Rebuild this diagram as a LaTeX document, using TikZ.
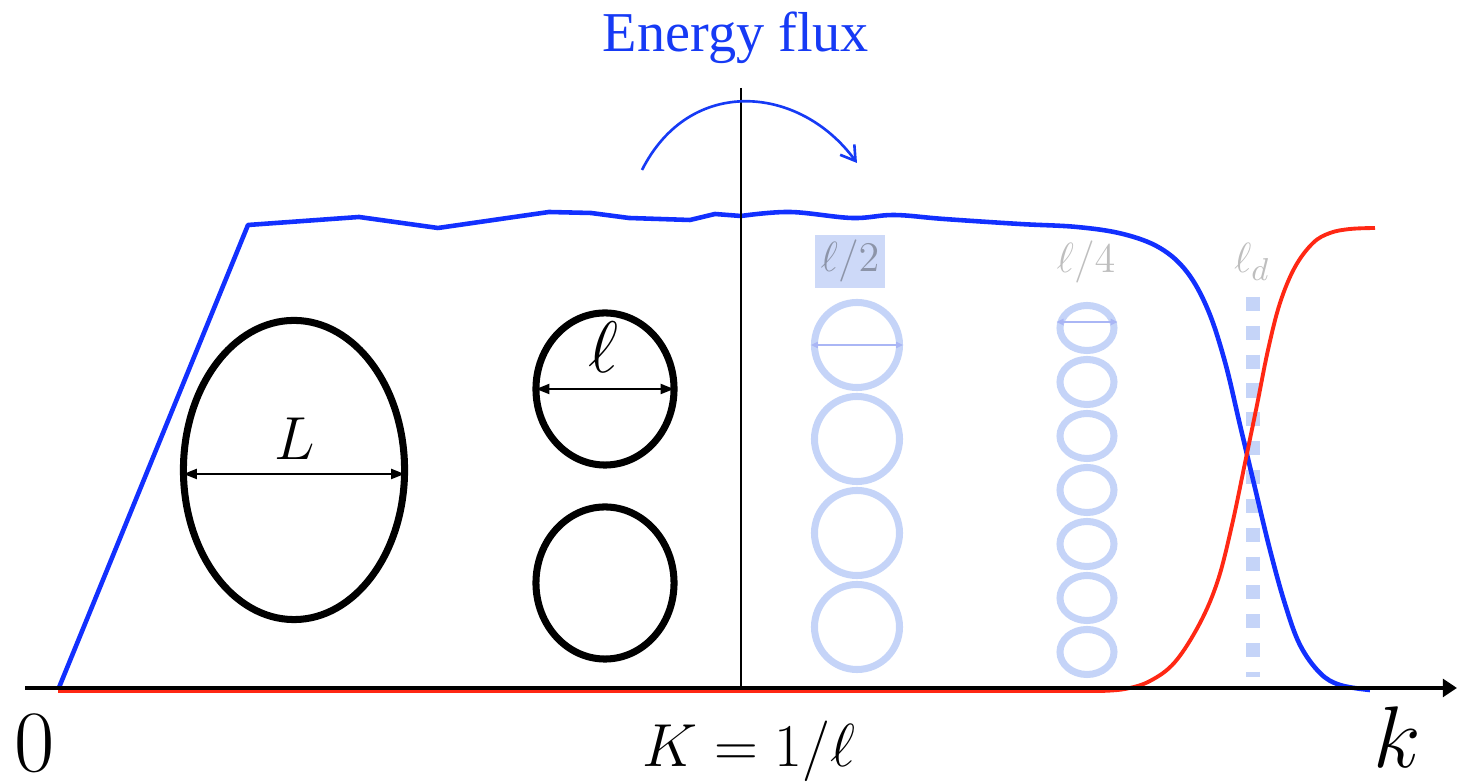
\documentclass[tikz,border=0pt]{standalone}
\usepackage{amsmath,amssymb}
\usepackage{xcolor}
\usepackage{fontspec}
\newfontfamily\timesfont{Liberation Serif}
\usepackage{tikz}
\usetikzlibrary{arrows.meta,shapes.geometric}

\definecolor{fluxblue}{RGB}{22,58,245}
\definecolor{specblue}{RGB}{18,48,255}
\definecolor{dissred}{RGB}{255,40,20}
\definecolor{paleblue}{RGB}{197,212,248}
\definecolor{boxblue}{RGB}{205,217,248}
\definecolor{palearrow}{RGB}{170,182,245}
\definecolor{boxgrey}{RGB}{140,148,168}
\definecolor{palegrey}{RGB}{190,190,190}

\begin{document}
\begin{tikzpicture}[x=0.01cm, y=-0.01cm,
        eddy/.style={draw, ellipse, line width=2pt, inner sep=0pt},
        subeddy/.style={draw=paleblue, ellipse, line width=2pt, inner sep=0pt},
        span/.style={{Triangle[length=3.8pt,width=2.8pt]}-{Triangle[length=3.8pt,width=2.8pt]}, line width=0.65pt, shorten <=1pt, shorten >=1pt},
        palespan/.style={{Triangle[length=2pt,width=1.8pt]}-{Triangle[length=2pt,width=1.8pt]}, draw=palearrow, line width=0.4pt},
        scalename/.style={anchor=base, text=palegrey, font=\fontsize{12.5}{15}\selectfont}]
    \useasboundingbox (0,0) rectangle (1459,783);

    % dissipation scale
    \coordinate (dtop) at (1253,297);
    \coordinate (dbot) at (1253,677);
    \draw[paleblue, line width=4pt, dash pattern=on 4pt off 4.2pt] (dtop) -- (dbot);

    % spectra
    \draw[specblue, line width=1.3pt, line join=round]
        (58,690) -- (248,225) -- (359,217) -- (438,228) -- (549,212) -- (591,213)
        -- (629,218) -- (690,220) -- (715,214) -- (741,216)
        -- plot[smooth, tension=0.6] coordinates {(741,216) (790,212) (852,218) (894,215)
        (944,219) (1020,224) (1077,227) (1123,234) (1160,248) (1187,272) (1208,310)
        (1225,362) (1240,425) (1255,488) (1270,550) (1285,604) (1300,645) (1320,673)
        (1340,685) (1370,690)};
    \draw[dissred, line width=1.1pt]
        (58,691) -- (1100,691)
        -- plot[smooth, tension=0.6] coordinates {(1100,691) (1125,689) (1150,681) (1175,662)
        (1200,623) (1218,580) (1232,525) (1245,463) (1257,405) (1268,350) (1280,303)
        (1295,267) (1313,243) (1330,233) (1350,229) (1375,228)};

    % wavenumber K
    \coordinate (Ktop) at (741,88);
    \coordinate (Kbot) at (741,688);
    \draw[line width=0.45pt] (Ktop) -- (Kbot);

    % axis
    \coordinate (origin) at (25,688);
    \coordinate (kmax) at (1457,688);
    \draw[line width=1.4pt, -{Triangle[length=4pt,width=5pt]}] (origin) -- (kmax);
    \node[anchor=base, inner sep=0pt, font=\fontsize{26}{30}\selectfont] (zero) at (35,772) {$0$};
    \node[anchor=base, inner sep=0pt, font=\fontsize{25}{30}\selectfont] (kname) at (1397,768) {$k$};
    \node[anchor=base, font=\fontsize{16.5}{20}\selectfont] (Kname) at (749,767) {$K=1/\ell$};

    % energy flux
    \node[anchor=base, text=fluxblue, font=\timesfont\fontsize{16}{20}\selectfont] (flux) at (736,52) {Energy flux};
    \coordinate (fluxfrom) at (642,170);
    \coordinate (fluxto) at (857,163);
    \draw[fluxblue, line width=0.75pt, -{Straight Barb[length=4pt,width=5pt]}]
        (fluxfrom) .. controls (690,75) and (800,85) .. (fluxto);

    % eddies
    \node[eddy, minimum width=2.21cm, minimum height=2.99cm] (bigeddy) at (294,470) {};
    \draw[span] ([yshift=-0.04cm]bigeddy.west) -- ([yshift=-0.04cm]bigeddy.east);
    \node[anchor=base, font=\fontsize{16.5}{20}\selectfont] (Lname) at (295,460) {$L$};

    \node[eddy, minimum width=1.38cm, minimum height=1.52cm] (eddyA) at (605,389) {};
    \node[eddy, minimum width=1.38cm, minimum height=1.52cm] (eddyB) at (605,583) {};
    \draw[span] (eddyA.west) -- (eddyA.east);
    \node[anchor=base, font=\fontsize{20}{24}\selectfont] (ellname) at (603,373) {$\ell$};

    % smaller eddies
    \foreach \i in {0,...,3}
        \node[subeddy, minimum size=0.85cm] (half\i) at (857,{345+94*\i}) {};
    \foreach \i in {0,...,6}
        \node[subeddy, minimum width=0.54cm, minimum height=0.45cm] (quarter\i) at (1087,{328+54*\i}) {};
    \draw[palespan] (half0.west) -- (half0.east);
    \draw[palespan] ([yshift=0.06cm]quarter0.west) -- ([yshift=0.06cm]quarter0.east);

    \node[scalename, text=boxgrey, fill=boxblue, inner sep=1.6pt] (halfname) at (850,272) {$\ell/2$};
    \node[scalename] (quartername) at (1086,273) {$\ell/4$};
    \node[scalename] (dname) at (1252,273) {$\ell_d$};
\end{tikzpicture}
\end{document}
